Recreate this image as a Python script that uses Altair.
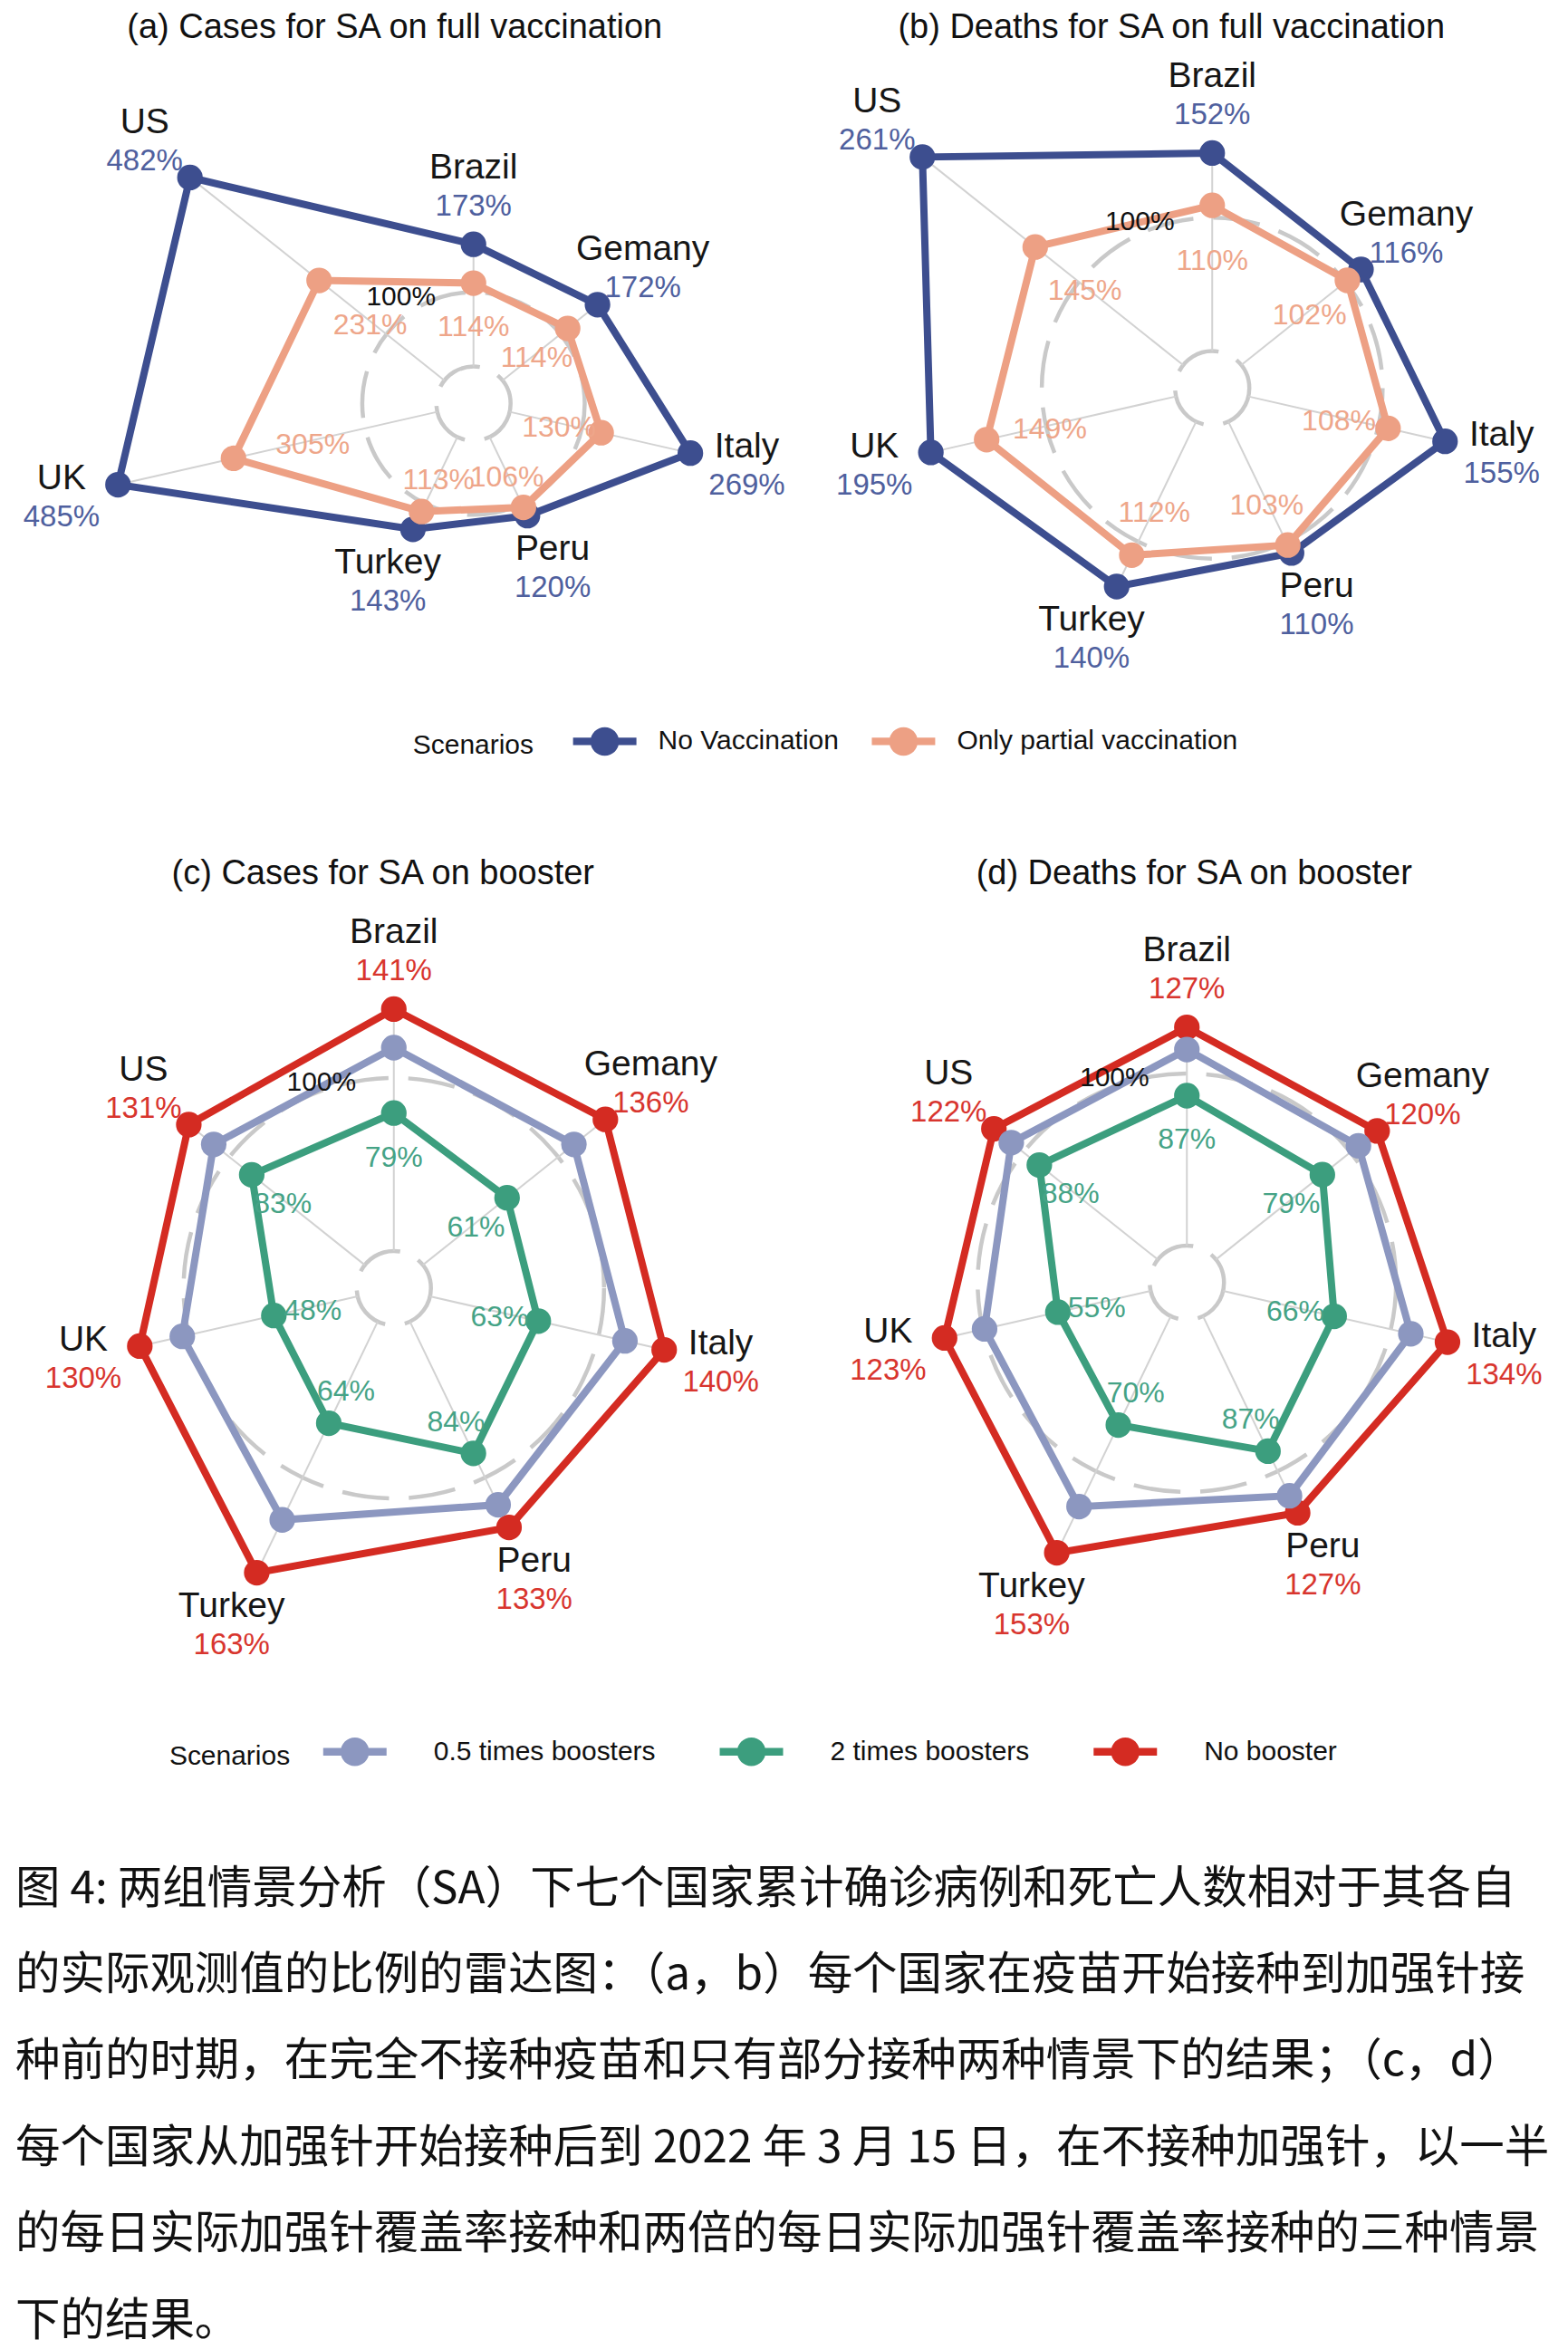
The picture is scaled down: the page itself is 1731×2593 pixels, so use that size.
import altair as alt
import pandas as pd

# ---------------- data ----------------
countries = ["Brazil", "Gemany", "Italy", "Peru", "Turkey", "UK", "US"]

vacc_series = ["No Vaccination", "Only partial vaccination"]
boost_series = ["0.5 times boosters", "2 times boosters", "No booster"]

# (a) Cases for SA on full vaccination
cases_full_no_vacc = [173, 172, 269, 120, 143, 485, 482]
cases_full_partial = [114, 114, 130, 106, 113, 305, 231]
# (b) Deaths for SA on full vaccination
deaths_full_no_vacc = [152, 116, 155, 110, 140, 195, 261]
deaths_full_partial = [110, 102, 108, 103, 112, 149, 145]
# (c) Cases for SA on booster (0.5x values unlabeled in the source)
cases_boost_half = [118, 112, 116, 118, 128, 104, 112]
cases_boost_double = [79, 61, 63, 84, 64, 48, 83]
cases_boost_none = [141, 136, 140, 133, 163, 130, 131]
# (d) Deaths for SA on booster
deaths_boost_half = [114, 106, 112, 116, 123, 99, 109]
deaths_boost_double = [87, 79, 66, 87, 70, 55, 88]
deaths_boost_none = [127, 120, 134, 127, 153, 123, 122]

reference_levels = [100]

caption_lines = [
    "图 4: 两组情景分析（SA）下七个国家累计确诊病例和死亡人数相对于其各自",
    "的实际观测值的比例的雷达图：（a，b）每个国家在疫苗开始接种到加强针接",
    "种前的时期，在完全不接种疫苗和只有部分接种两种情景下的结果；（c，d）",
    "每个国家从加强针开始接种后到 2022 年 3 月 15 日，在不接种加强针，以一半",
    "的每日实际加强针覆盖率接种和两倍的每日实际加强针覆盖率接种的三种情景",
    "下的结果。",
]

# ---------------- styles ----------------
FONT = "Liberation Sans"
CJK = "Noto Sans CJK SC"
NAVY, SALMON = "#3D4E8F", "#EDA084"
SLATE, TEAL, RED = "#8C97C0", "#3C9E7E", "#D42B22"
NAVY_TXT, SALMON_TXT = "#4F609E", "#EEA68A"
TEAL_TXT, RED_TXT = "#45A386", "#D8352E"
GRID = "#C9C9C9"
SPOKE = "#D2D2D2"
R_IN = 41
OUTER_OFF = 64

SYMBOL = ("M-1,-0.12L1,-0.12L1,0.12L-1,0.12Z "
          "M-0.45,0A0.45,0.45 0 1,1 0.45,0A0.45,0.45 0 1,1 -0.45,0Z")

W = 856


def make_legend(x, y, label_offset, col_pad, title_pad):
    return alt.Legend(
        orient="none", legendX=x, legendY=y, direction="horizontal",
        title="Scenarios", titleOrient="left", titleFont=FONT, titleFontSize=30,
        titleFontWeight="normal", titleColor="#111111", titlePadding=title_pad,
        titleAnchor="middle", titleBaseline="top",
        labelFont=FONT, labelFontSize=30, labelColor="#111111", labelLimit=1000,
        labelOffset=label_offset, columnPadding=col_pad,
        symbolType=SYMBOL, symbolSize=4900, symbolStrokeWidth=0,
        symbolOpacity=1,
    )


def radar_panel(title, title_dx, names, values, order, colors, outer, inner,
                outer_txt, inner_txt, k, c, cx, cy, H, legend, in_ratio, in_min):
    rows = []
    for s, vals in zip(names, values):
        for i, (ct, v) in enumerate(zip(countries, vals)):
            rows.append({"country": ct, "idx": i, "series": s, "value": v})
    df = pd.DataFrame(rows)
    n = len(countries)
    xs = alt.Scale(domain=[-cx, W - cx], nice=False, zero=False)
    ys = alt.Scale(domain=[cy - H, cy], nice=False, zero=False)

    def X(f):
        return alt.X(f, type="quantitative", scale=xs, axis=None)

    def Y(f):
        return alt.Y(f, type="quantitative", scale=ys, axis=None)

    base = alt.Chart(df).transform_calculate(
        ang=f"datum.idx * 2 * PI / {n}",
        r=f"{k} * (datum.value - ({c}))",
    ).transform_calculate(
        x="datum.r * sin(datum.ang)",
        y="datum.r * cos(datum.ang)",
    )

    ring_df = pd.DataFrame({"level": reference_levels})
    ring = alt.Chart(ring_df).transform_calculate(
        rr=f"{k} * (datum.level - ({c}))",
        x0="0", y0="0",
    ).transform_calculate(sz="4 * datum.rr * datum.rr").mark_point(
        shape="circle", filled=False, stroke=GRID, strokeWidth=4.5,
        strokeDash=[52, 22], opacity=1,
    ).encode(x=X("x0"), y=Y("y0"), size=alt.Size("sz:Q", scale=None, legend=None))

    inner_ring = alt.Chart(ring_df).transform_calculate(
        x0="0", y0="0").mark_point(
        shape="circle", filled=False, stroke=GRID, strokeWidth=4.5,
        strokeDash=[52, 22], opacity=1, size=4 * R_IN * R_IN,
    ).encode(x=X("x0"), y=Y("y0"))

    outer_rows = base.transform_filter(alt.datum.series == outer)

    spokes = outer_rows.transform_calculate(
        x1=f"{R_IN} * sin(datum.ang)", y1=f"{R_IN} * cos(datum.ang)",
    ).mark_rule(color=SPOKE, strokeWidth=2).encode(
        x=X("x1"), y=Y("y1"), x2="x:Q", y2="y:Q")

    fill_scale = alt.Scale(domain=order, range=colors)
    # same mapping, listed in reverse so the (legend-less) stroke scale is kept apart
    stroke_scale = alt.Scale(domain=order[::-1], range=colors[::-1])

    lines = base.mark_line(interpolate="linear-closed", strokeWidth=8).encode(
        x=X("x"), y=Y("y"),
        stroke=alt.Stroke("series:N", scale=stroke_scale, legend=None),
        detail="series:N", order="idx:Q",
    )

    pts = base.mark_point(filled=True, shape="circle", size=800, opacity=1,
                          strokeWidth=0).encode(
        x=X("x"), y=Y("y"),
        fill=alt.Fill("series:N", scale=fill_scale, legend=legend),
    )

    inner_lbl = base.transform_filter(alt.datum.series == inner).transform_calculate(
        rl=f"datum.r - max({in_min}, {in_ratio} * datum.r)",
    ).transform_calculate(
        xl="datum.rl * sin(datum.ang)",
        yl="datum.rl * cos(datum.ang)",
        txt="datum.value + '%'",
    ).mark_text(font=FONT, fontSize=32, color=inner_txt, dy=5).encode(
        x=X("xl"), y=Y("yl"), text="txt:N")

    lab = outer_rows.transform_calculate(
        xl=f"(datum.r + {OUTER_OFF}) * sin(datum.ang)",
        yl=f"(datum.r + {OUTER_OFF}) * cos(datum.ang)",
        txt="datum.value + '%'",
    )
    name_lbl = lab.mark_text(font=FONT, fontSize=39, color="#161616", dy=-21).encode(
        x=X("xl"), y=Y("yl"), text="country:N")
    val_lbl = lab.mark_text(font=FONT, fontSize=33, color=outer_txt, dy=22).encode(
        x=X("xl"), y=Y("yl"), text="txt:N")

    ref_lbl = alt.Chart(ring_df).transform_calculate(
        xl="-80", yl=f"{k} * (datum.level - ({c})) - 5",
        txt="datum.level + '%'",
    ).mark_text(font=FONT, fontSize=30, color="#111111").encode(
        x=X("xl"), y=Y("yl"), text="txt:N")

    return alt.layer(
        inner_ring, ring, spokes, lines, pts, inner_lbl, name_lbl, val_lbl, ref_lbl
    ).properties(
        width=W, height=H,
        title=alt.TitleParams(title, font=FONT, fontSize=38, fontWeight="normal",
                              color="#111111", anchor="middle", dx=title_dx, offset=10),
    )


H1, H2 = 720, 860
leg1 = make_legend(448, 724, 24, 36, 43)
leg2 = make_legend(179, 905, 52, 70, 36)

vacc_colors = [NAVY, SALMON]
boost_colors = [SLATE, TEAL, RED]

pa = radar_panel("(a) Cases for SA on full vaccination", 0, vacc_series,
                 [cases_full_no_vacc, cases_full_partial], vacc_series, vacc_colors,
                 vacc_series[0], vacc_series[1], NAVY_TXT, SALMON_TXT,
                 0.727, -69, 515, 386, H1, leg1, 0.33, 42)
pb = radar_panel("(b) Deaths for SA on full vaccination", -2, vacc_series,
                 [deaths_full_no_vacc, deaths_full_partial], vacc_series, vacc_colors,
                 vacc_series[0], vacc_series[1], NAVY_TXT, SALMON_TXT,
                 1.374, -37, 471, 369, H1, leg1, 0.28, 42)

draw_order = [boost_series[2], boost_series[0], boost_series[1]]
pc = radar_panel("(c) Cases for SA on booster", -13, draw_order,
                 [cases_boost_none, cases_boost_half, cases_boost_double],
                 boost_series, boost_colors, boost_series[2], boost_series[1],
                 RED_TXT, TEAL_TXT, 1.852, -25.4, 427, 428, H2, leg2, 0.0, 44)
pd_ = radar_panel("(d) Deaths for SA on booster", 27, draw_order,
                  [deaths_boost_none, deaths_boost_half, deaths_boost_double],
                  boost_series, boost_colors, boost_series[2], boost_series[1],
                  RED_TXT, TEAL_TXT, 1.888, -22.4, 447, 422, H2, leg2, 0.0, 44)

row1 = alt.hconcat(pa, pb, spacing=0)
row2 = alt.hconcat(pc, pd_, spacing=0)

chart = alt.vconcat(row1, row2, spacing=108).resolve_scale(
    fill="independent", stroke="independent"
).resolve_legend(fill="independent").properties(
    padding={"top": 3, "left": 0, "right": 0, "bottom": 4},
    title=alt.TitleParams(caption_lines, orient="bottom", anchor="start",
                          font=CJK, fontSize=49.5, fontWeight="normal",
                          color="#111111", lineHeight=95.5, offset=108, dx=9),
).configure_view(stroke=None)

chart.save("out.html", embed_options={"renderer": "svg", "actions": False})
